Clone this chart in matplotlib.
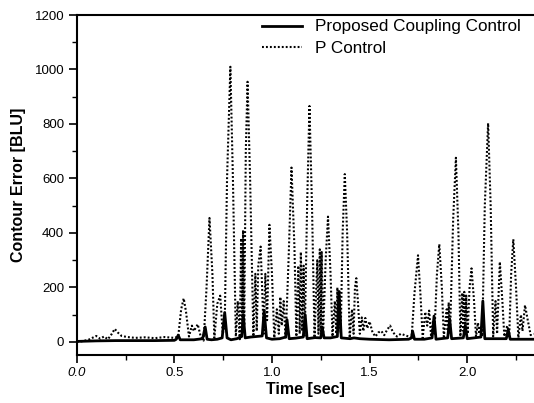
import matplotlib
matplotlib.use("Agg")
import matplotlib.pyplot as plt
from matplotlib.ticker import MultipleLocator

plt.rcParams['font.family'] = ['Liberation Sans', 'DejaVu Sans']

# P Control contour error (time [sec], error [BLU])
p_time = [0.00, 0.03, 0.06, 0.08, 0.10, 0.12, 0.14, 0.16, 0.18, 0.195, 0.21, 0.23,
          0.26, 0.30, 0.35, 0.40, 0.45, 0.50, 0.52, 0.535, 0.548, 0.56, 0.575, 0.59,
          0.60, 0.62, 0.635, 0.65, 0.665, 0.68, 0.695, 0.705, 0.72, 0.735, 0.748, 0.758,
          0.77, 0.787, 0.80, 0.815, 0.825, 0.835, 0.842, 0.848, 0.852, 0.858, 0.866, 0.875,
          0.888, 0.905, 0.915, 0.922, 0.93, 0.942, 0.952, 0.958, 0.966, 0.975, 0.987, 1.00,
          1.012, 1.025, 1.035, 1.043, 1.05, 1.06, 1.07, 1.085, 1.10, 1.115, 1.125, 1.135,
          1.142, 1.148, 1.155, 1.162, 1.168, 1.18, 1.192, 1.205, 1.218, 1.232, 1.238, 1.245,
          1.25, 1.255, 1.262, 1.275, 1.287, 1.30, 1.31, 1.322, 1.33, 1.335, 1.34, 1.345,
          1.352, 1.362, 1.373, 1.385, 1.398, 1.41, 1.418, 1.425, 1.432, 1.44, 1.45, 1.46,
          1.468, 1.478, 1.488, 1.50, 1.515, 1.53, 1.545, 1.56, 1.575, 1.59, 1.605, 1.62,
          1.64, 1.66, 1.68, 1.70, 1.715, 1.73, 1.748, 1.76, 1.772, 1.785, 1.795, 1.805,
          1.815, 1.825, 1.832, 1.845, 1.857, 1.87, 1.88, 1.895, 1.90, 1.905, 1.912, 1.928,
          1.942, 1.955, 1.965, 1.975, 1.98, 1.985, 1.99, 1.995, 2.002, 2.012, 2.022, 2.035,
          2.045, 2.055, 2.062, 2.07, 2.077, 2.09, 2.107, 2.12, 2.133, 2.145, 2.153, 2.167,
          2.18, 2.19, 2.205, 2.215, 2.225, 2.236, 2.25, 2.262, 2.275, 2.283, 2.296, 2.31,
          2.325, 2.34]
p_error = [0, 3, 8, 15, 22, 12, 20, 10, 30, 48, 35, 22,
           18, 15, 17, 14, 18, 15, 20, 120, 160, 110, 20, 60,
           40, 65, 20, 5, 200, 455, 250, 15, 140, 170, 30, 60,
           600, 1010, 600, 20, 150, 10, 380, 40, 410, 60, 700, 955,
           600, 20, 250, 40, 280, 350, 150, 30, 250, 80, 430, 250,
           15, 120, 30, 165, 60, 150, 10, 300, 640, 350, 20, 280,
           30, 330, 40, 280, 20, 500, 866, 500, 15, 300, 30, 340,
           40, 330, 30, 300, 460, 250, 20, 150, 30, 200, 40, 190,
           30, 400, 616, 400, 15, 120, 30, 200, 234, 150, 30, 90,
           40, 88, 50, 75, 35, 20, 35, 40, 25, 45, 60, 35,
           20, 30, 25, 20, 15, 180, 318, 180, 15, 110, 60, 115,
           20, 80, 30, 250, 359, 200, 20, 120, 40, 145, 30, 450,
           676, 400, 20, 180, 40, 184, 40, 170, 30, 200, 270, 150,
           20, 70, 30, 60, 20, 500, 803, 500, 20, 150, 30, 294,
           150, 20, 60, 20, 250, 377, 200, 15, 100, 40, 135, 80,
           25, 30]

# Proposed Coupling Control contour error
c_time = [0.00, 0.05, 0.10, 0.20, 0.30, 0.40, 0.50, 0.51, 0.52, 0.53, 0.60, 0.645,
          0.658, 0.668, 0.69, 0.72, 0.745, 0.758, 0.77, 0.79, 0.82, 0.845, 0.853, 0.863,
          0.89, 0.92, 0.95, 0.96, 0.972, 1.00, 1.04, 1.07, 1.077, 1.088, 1.12, 1.16,
          1.17, 1.18, 1.22, 1.25, 1.257, 1.267, 1.30, 1.335, 1.343, 1.355, 1.40, 1.42,
          1.45, 1.50, 1.60, 1.70, 1.715, 1.72, 1.73, 1.78, 1.82, 1.83, 1.84, 1.90,
          1.91, 1.92, 1.98, 1.99, 2.00, 2.07, 2.08, 2.09, 2.15, 2.20, 2.21, 2.22,
          2.28, 2.34]
c_error = [2, 3, 4, 5, 5, 5, 6, 10, 25, 8, 8, 12,
           55, 10, 8, 10, 15, 108, 15, 8, 12, 20, 100, 15,
           18, 20, 22, 116, 15, 10, 12, 18, 82, 12, 14, 18,
           100, 12, 16, 15, 55, 15, 15, 20, 185, 15, 12, 15,
           12, 10, 8, 10, 15, 40, 10, 10, 15, 95, 10, 15,
           85, 12, 15, 60, 12, 18, 150, 12, 12, 12, 45, 10,
           10, 10]

x_ticks = [0.0, 0.5, 1.0, 1.5, 2.0]
x_tick_labels = ['0.0', '0.5', '1.0', '1.5', '2.0']
y_ticks = [0, 200, 400, 600, 800, 1000, 1200]

W, H = 534, 403
fig = plt.figure(figsize=(W / 100, H / 100), dpi=100)
ax = fig.add_axes([76.7 / W, 1 - 354.5 / H, 1 - 76.7 / W, (354.5 - 15) / H])

ax.plot(c_time, c_error, color='black', lw=2.0, solid_joinstyle='round',
        label='Proposed Coupling Control', zorder=3)
ax.plot(p_time, p_error, color='black', lw=1.5, linestyle=(0, (0.9, 1.0)),
        label='P Control', zorder=2)

ax.set_xlim(0, 2.342)
ax.set_ylim(-46, 1200)
ax.set_xticks(x_ticks)
ax.set_xticklabels(x_tick_labels)
ax.get_xticklabels()[0].set_fontstyle('italic')
ax.set_yticks(y_ticks)
ax.xaxis.set_minor_locator(MultipleLocator(0.25))
ax.yaxis.set_minor_locator(MultipleLocator(100))
ax.tick_params(which='major', direction='out', length=6, width=1.2, labelsize=9.5, pad=3)
ax.tick_params(which='minor', direction='out', length=3.5, width=1.0)
ax.tick_params(axis='x', which='major', pad=3)

for s in ['left', 'bottom', 'top']:
    ax.spines[s].set_linewidth(1.5)
ax.spines['right'].set_visible(False)

ax.set_xlabel('Time [sec]', fontsize=11.5, fontweight='bold', labelpad=2)
ax.set_ylabel('Contour Error [BLU]', fontsize=11.5, fontweight='bold', labelpad=6)

ax.legend(loc='upper left', bbox_to_anchor=(262 / W, 1 - 19.5 / H),
          bbox_transform=fig.transFigure, frameon=False, fontsize=12.3,
          borderpad=0, borderaxespad=0, handlelength=2.35, handletextpad=0.75,
          labelspacing=0.38)

fig.savefig('out.png', dpi=100)
